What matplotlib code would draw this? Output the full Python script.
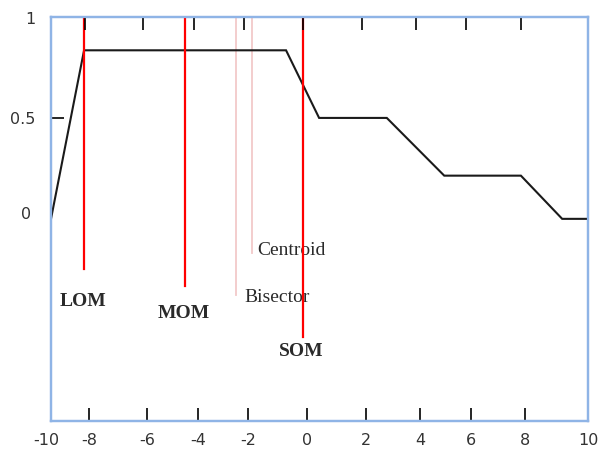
import numpy as np
import matplotlib
matplotlib.use("Agg")
import matplotlib.pyplot as plt
from matplotlib.transforms import ScaledTranslation

# ---- data ----
tick_values = [-10, -8, -6, -4, -2, 0, 2, 4, 6, 8, 10]
tick_labels = ["-10", "-8", "-6", "-4", "-2", "0", "2", "4", "6", "8", "10"]
# irregular tick spacing of the original drawing (relative screen position)
tick_screen = [51, 89, 147, 198, 248, 307, 366, 420, 470.5, 525, 588]

curve_x = [-10, -8.26, -0.71, 0.41, 2.77, 4.96, 7.85, 9.18, 10]
curve_y = [0, 0.835, 0.835, 0.5, 0.5, 0.214, 0.214, 0, 0]

bold_names = ["LOM", "MOM", "SOM"]
bold_x = [-8.25, -4.5, -0.15]
bold_line_bottom = [-0.249, -0.335, -0.583]
bold_label_x = [-8.3, -4.54, -0.18]
bold_label_y = [-0.41, -0.47, -0.657]

light_names = ["Bisector", "Centroid"]
light_x = [-2.49, -1.86]
light_line_bottom = [-0.376, -0.167]
light_label_x = [-2.16, -1.68]
light_label_y = [-0.39, -0.158]

ytick_values = [0, 0.5, 1]
ytick_labels = ["0", "0.5", "1"]

# ---- scale mapping (piecewise linear) ----
ext_v = [-12] + tick_values + [12]
ext_s = [51 - 38] + tick_screen + [588 + 63]

def fwd(v):
    return np.interp(v, ext_v, ext_s)

def inv(s):
    return np.interp(s, ext_s, ext_v)

frame_col = "#8fb4e6"
fig = plt.figure(figsize=(6.04, 4.49), dpi=100)
ax = fig.add_axes([51/604, 1 - 420.7/449, (588-51)/604, (420.7-17)/449])
ax.set_xscale("function", functions=(fwd, inv))
ax.set_xlim(-10, 10)
ax.set_ylim(-1, 1)

ax.plot(curve_x, curve_y, color="#1a1a1a", lw=1.5, solid_joinstyle="miter", zorder=3)

for x, yb in zip(bold_x, bold_line_bottom):
    ax.plot([x, x], [1, yb], color="#ff0000", lw=1.6, zorder=4)
for x, yb in zip(light_x, light_line_bottom):
    ax.plot([x, x], [1, yb], color="#f2c9c9", lw=1.3, zorder=2)

serif = "Liberation Serif"
for name, x, y in zip(bold_names, bold_label_x, bold_label_y):
    ax.text(x, y, name, ha="center", va="center", fontsize=14, fontweight="bold",
            family=serif, color="#2a2a2a")
for name, x, y in zip(light_names, light_label_x, light_label_y):
    ax.text(x, y, name, ha="left", va="center", fontsize=14,
            family=serif, color="#2a2a2a")

ax.set_xticks(tick_values)
ax.set_xticklabels(tick_labels)
ax.set_yticks(ytick_values)
ax.set_yticklabels(ytick_labels)
ax.tick_params(axis="x", direction="in", length=9.5, width=1.2, color="black",
               labelsize=11.5, labelcolor="#333333", pad=9)
ax.tick_params(axis="y", direction="in", length=9.5, width=1.2, color="black",
               labelsize=11.5, labelcolor="#333333", pad=11)
for t in ax.yaxis.get_major_ticks():
    t.tick1line.set_visible(False)
ax.yaxis.get_major_ticks()[1].tick1line.set_visible(True)
for lab in ax.get_xticklabels() + ax.get_yticklabels():
    lab.set_family("DejaVu Sans")

# small offsets of individual labels seen in the original
ylabs = ax.get_yticklabels()
ylabs[0].set_transform(ylabs[0].get_transform() + ScaledTranslation(-5/100, 6/100, fig.dpi_scale_trans))
ylabs[2].set_transform(ylabs[2].get_transform() + ScaledTranslation(0, -1/100, fig.dpi_scale_trans))
xlabs = ax.get_xticklabels()
xlabs[0].set_transform(xlabs[0].get_transform() + ScaledTranslation(-5/100, 0, fig.dpi_scale_trans))

# top ticks (slightly shifted in the original)
ax2 = ax.twiny()
ax2.set_xscale("function", functions=(fwd, inv))
ax2.set_xlim(inv(51 + 4.5), inv(588 + 4.5))
ax2.set_xticks(tick_values[1:-1])
ax2.tick_params(axis="x", direction="in", length=9.5, width=1.2, color="black",
                labeltop=False)

for a in (ax, ax2):
    for sp in a.spines.values():
        sp.set_color(frame_col)
        sp.set_linewidth(1.6)

fig.savefig("out.png", dpi=100)
